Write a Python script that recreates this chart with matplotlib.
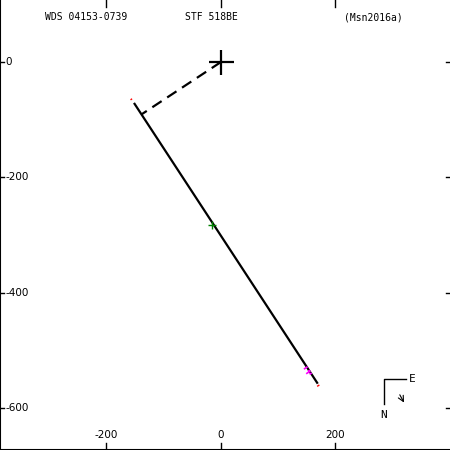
import matplotlib
matplotlib.use("Agg")
import matplotlib.pyplot as plt
import numpy as np

# orbit line (linear fit), observations and residuals
line_x = [-152, 169]
line_y = [-71, -558]
node_x = [0, -139]
node_y = [0, -91]
green_x = [-16]
green_y = [-283]
mag_obs_x = [146, 150, 153, 156]
mag_obs_y = [-532, -540, -536, -541]
red_obs_x = [-157, 169]
red_obs_y = [-65, -562]
xticks = [-200, 0, 200]
yticks = [0, -200, -400, -600]

title_left = "WDS 04153-0739"
title_mid = "STF 518BE"
title_right = "(Msn2016a)"

font = "DejaVu Sans Mono"

fig = plt.figure(figsize=(4.5, 4.5), dpi=100)
ax = fig.add_axes([0, 0, 1, 1])
ax.set_xlim(-386, 400)
ax.set_ylim(-673, 107.5)

# projection of a point on the fitted line
def project(px, py):
    a = np.array([line_x[0], line_y[0]], float)
    d = np.array([line_x[1] - line_x[0], line_y[1] - line_y[0]], float)
    t = np.dot(np.array([px, py]) - a, d) / np.dot(d, d)
    return a + t * d

ax.plot(line_x, line_y, color="black", lw=1.6, solid_capstyle="butt")
ax.plot(node_x, node_y, color="black", lw=1.6, ls=(0, (5, 3)))
ax.plot([0], [0], marker="+", ms=18, mew=1.6, color="black")

for px, py in zip(mag_obs_x, mag_obs_y):
    fx, fy = project(px, py)
    ax.plot([px, fx], [py, fy], color="magenta", lw=1.2)
for px, py in zip(red_obs_x, red_obs_y):
    fx, fy = project(px, py)
    ax.plot([px, fx], [py, fy], color="red", lw=1)
ax.plot(green_x, green_y, marker="+", ms=6, mew=1, color="green", ls="none")

# compass
ax.plot([285, 285, 323], [-593, -550, -550], color="black", lw=1)
ax.text(328, -550, "E", fontsize=8, family=font, va="center", ha="left")
ax.text(284, -603, "N", fontsize=8, family=font, va="top", ha="center")
ax.annotate("", xy=(322, -595), xytext=(310, -573),
            arrowprops=dict(arrowstyle="->", lw=0.8, color="black"))

# ticks and labels
for s in ["top", "right"]:
    ax.spines[s].set_visible(False)
ax.spines["left"].set_linewidth(1.5)
ax.spines["bottom"].set_linewidth(1.5)
ax.set_xticks([])
ax.set_yticks([])
for v in xticks:
    ax.plot([v, v], [-673, -660], color="black", lw=1)
    ax.plot([v, v], [107.5, 96], color="black", lw=1)
    ax.text(v, -647, str(v), fontsize=7.5, family="DejaVu Sans",
            ha="center", va="center")
for v in yticks:
    ax.plot([-386, -379], [v, v], color="black", lw=1)
    ax.plot([393, 400], [v, v], color="black", lw=1)
    ax.text(-376, v, str(v), fontsize=7.5, family="DejaVu Sans",
            ha="left", va="center")

ax.text(-236, 78, title_left, fontsize=7, family=font, ha="center", va="center")
ax.text(-16, 78, title_mid, fontsize=7, family=font, ha="center", va="center")
ax.text(267, 78, title_right, fontsize=7, family=font, ha="center", va="center")

fig.savefig("out.png", dpi=100)
